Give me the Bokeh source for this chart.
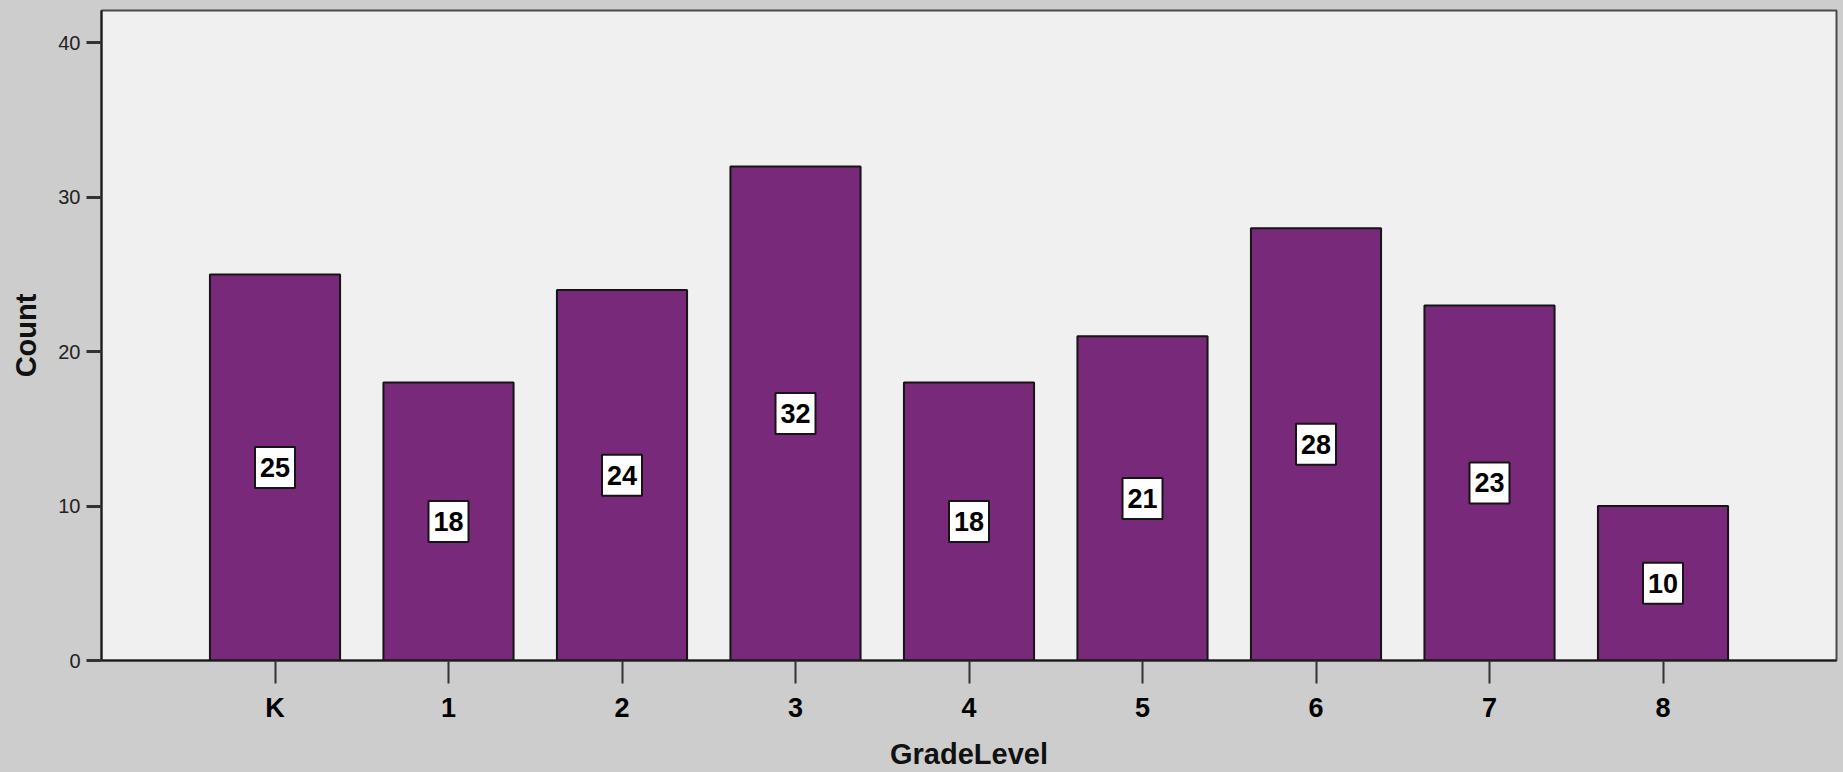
from bokeh.plotting import figure
from bokeh.models import Range1d, FixedTicker, ColumnDataSource
from bokeh.embed import file_html
from bokeh.resources import INLINE
from bokeh.core.properties import value

grades = ["K", "1", "2", "3", "4", "5", "6", "7", "8"]
counts = [25, 18, 24, 32, 18, 21, 28, 23, 10]
y_ticks = [0, 10, 20, 30, 40]

pos = list(range(len(grades)))
src = ColumnDataSource(dict(
    x=pos,
    top=counts,
    mid=[c / 2 for c in counts],
    label=[str(c) for c in counts],
))

FONT = "Liberation Sans"

p = figure(width=1843, height=772, output_backend="svg", toolbar_location=None,
           x_range=Range1d(-1, len(grades)), y_range=Range1d(0, 42.1),
           min_border_left=101, min_border_top=10, min_border_right=7,
           min_border_bottom=112)
p.background_fill_color = "#F0F0F0"
p.border_fill_color = "#CDCDCD"
p.outline_line_color = "#4a4a4a"
p.outline_line_width = 2
p.grid.visible = False

p.vbar(x="x", top="top", bottom=0, width=0.75, source=src,
       fill_color="#78297A", line_color="#151515", line_width=2)
p.rect(x="x", y="mid", width=40, height=41, width_units="screen",
       height_units="screen", source=src, fill_color="white",
       line_color="#151515", line_width=2)
p.text(x="x", y="mid", text="label", source=src, text_align="center",
       text_baseline="middle", text_font=value(FONT), text_font_style="bold",
       text_font_size="27px", text_color="black")

xa = p.xaxis[0]
xa.ticker = FixedTicker(ticks=pos)
xa.major_label_overrides = {i: g for i, g in zip(pos, grades)}
xa.minor_tick_line_color = None
xa.major_tick_out = 23
xa.major_tick_in = 0
xa.major_tick_line_width = 2
xa.major_tick_line_color = "#333333"
xa.axis_line_color = "#1a1a1a"
xa.axis_line_width = 2
xa.major_label_text_font = FONT
xa.major_label_text_font_style = "bold"
xa.major_label_text_font_size = "27px"
xa.major_label_text_color = "black"
xa.major_label_standoff = 9
xa.axis_label = "GradeLevel"
xa.axis_label_text_font = FONT
xa.axis_label_text_font_style = "bold"
xa.axis_label_text_font_size = "29px"
xa.axis_label_text_color = "#111111"
xa.axis_label_standoff = 12

ya = p.yaxis[0]
ya.ticker = FixedTicker(ticks=y_ticks)
ya.minor_tick_line_color = None
ya.major_tick_out = 15
ya.major_tick_in = 0
ya.major_tick_line_width = 3
ya.major_tick_line_color = "#333333"
ya.axis_line_color = "#1a1a1a"
ya.axis_line_width = 2
ya.major_label_text_font = FONT
ya.major_label_text_font_size = "20px"
ya.major_label_text_color = "#222222"
ya.major_label_standoff = 6
ya.axis_label = "Count"
ya.axis_label_text_font = FONT
ya.axis_label_text_font_style = "bold"
ya.axis_label_text_font_size = "29px"
ya.axis_label_text_color = "#111111"
ya.axis_label_standoff = 13

html = file_html(p, INLINE, title="GradeLevel")
html = html.replace("</head>", "<style>html, body {margin:0; padding:0; background:#CDCDCD; overflow:hidden;}</style></head>", 1)
open("out.html", "w").write(html)
